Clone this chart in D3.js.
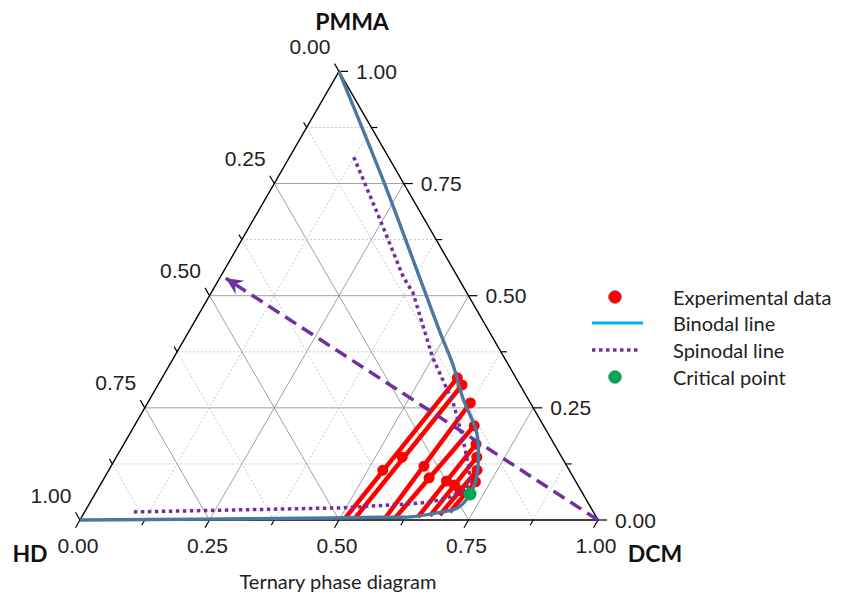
<!DOCTYPE html>
<html><head><meta charset="utf-8">
<script src="https://cdn.jsdelivr.net/npm/d3@7"></script>
<style>body{margin:0;background:#fff} svg{display:block}</style>
</head><body>
<svg id="chart" width="841" height="594"></svg>
<script>
// Compositions are stored as [DCM, PMMA] fractions; HD = 1 - DCM - PMMA.
const axisTicks = [0, 0.125, 0.25, 0.375, 0.5, 0.625, 0.75, 0.875, 1];
const majorTicks = [0, 0.25, 0.5, 0.75, 1];
const tickLabels = ["0.00", "0.25", "0.50", "0.75", "1.00"];
const vertexNames = ["HD", "DCM", "PMMA"];
const chartTitle = "Ternary phase diagram";

const binodal = [
  [0.000, 1.000], [0.206, 0.758], [0.353, 0.580], [0.487, 0.417], [0.547, 0.346],
  [0.603, 0.272], [0.669, 0.194], [0.707, 0.123], [0.721, 0.085], [0.724, 0.049],
  [0.715, 0.027], [0.681, 0.016], [0.634, 0.007], [0.576, 0.006], [0.480, 0.0045],
  [0.231, 0.002], [0.000, 0.000]
];

const spinodal = [
  [0.124, 0.809], [0.245, 0.669], [0.353, 0.542], [0.390, 0.506], [0.499, 0.363],
  [0.590, 0.261], [0.646, 0.185], [0.693, 0.116], [0.708, 0.089], [0.710, 0.067],
  [0.688, 0.051], [0.656, 0.040], [0.619, 0.036], [0.489, 0.027], [0.093, 0.018]
];

// Tie lines: lean phase, rich phase and the feed compositions between them
const tieLines = [
  { lean: [0.510, 0.0045], rich: [0.570, 0.317], feeds: [[0.529, 0.111]] },
  { lean: [0.529, 0.0045], rich: [0.587, 0.301], feeds: [[0.552, 0.140]] },
  { lean: [0.587, 0.0045], rich: [0.623, 0.261], feeds: [[0.604, 0.120]] },
  { lean: [0.606, 0.0045], rich: [0.656, 0.210], feeds: [[0.627, 0.094]] },
  { lean: [0.649, 0.0067], rich: [0.680, 0.169], feeds: [[0.664, 0.087]] },
  { lean: [0.671, 0.009],  rich: [0.696, 0.140], feeds: [[0.684, 0.078]] },
  { lean: [0.689, 0.011],  rich: [0.711, 0.111], feeds: [[0.701, 0.065]] },
  { lean: [0.705, 0.018],  rich: [0.721, 0.085], feeds: [] }
];

const criticalPoint = [0.724, 0.058];
const dilutionPath = [[1.000, 0.000], [0.012, 0.539]];

const legendItems = ["Experimental data", "Binodal line", "Spinodal line", "Critical point"];

const colors = {
  data: "#ff0000", binodal: "#4a78a2", binodalKey: "#00b0f0",
  spinodal: "#7030a0", critical: "#00a651", grid: "#a0a0a0", minor: "#c8c8c8"
};

const svg = d3.select("#chart");
const side = 518;
const x = d3.scaleLinear().domain([0, 1]).range([80, 80 + side]);
const y = d3.scaleLinear().domain([0, 1]).range([520, 520 - side * Math.sqrt(3) / 2]);
const px = ([dcm, pmma]) => [x(dcm + pmma / 2), y(pmma)];
const line = d3.line().x(d => px(d)[0]).y(d => px(d)[1]);

// grid lines for each of the three components
const grid = svg.append("g");
axisTicks.filter(t => t > 0 && t < 1).forEach(t => {
  const major = majorTicks.includes(t);
  const segs = [
    [[0, t], [1 - t, t]],          // constant PMMA
    [[t, 0], [t, 1 - t]],          // constant DCM
    [[1 - t, 0], [0, 1 - t]]       // constant HD
  ];
  segs.forEach(s => grid.append("path")
    .attr("d", line(s))
    .attr("fill", "none")
    .attr("stroke", major ? colors.grid : colors.minor)
    .attr("stroke-width", 1)
    .attr("stroke-dasharray", major ? null : "2,2"));
});

// triangle outline
svg.append("path")
  .attr("d", line([[0, 0], [1, 0], [0, 1]]) + "Z")
  .attr("fill", "none").attr("stroke", "#000").attr("stroke-width", 1.4);

// ticks and tick labels
const axes = svg.append("g").attr("font-family", "'Liberation Sans', Arial, sans-serif")
  .attr("font-size", 21).attr("fill", "#222");
const c60 = 0.5, s60 = Math.sqrt(3) / 2;
axisTicks.forEach(t => {
  const len = majorTicks.includes(t) ? 9 : 6;
  // bottom (DCM)
  let [bx, by] = px([t, 0]);
  axes.append("line").attr("x1", bx).attr("y1", by).attr("x2", bx - c60 * len).attr("y2", by + s60 * len)
    .attr("stroke", "#000").attr("stroke-width", 1.2);
  // right (PMMA)
  let [rx, ry] = px([1 - t, t]);
  axes.append("line").attr("x1", rx).attr("y1", ry).attr("x2", rx + len).attr("y2", ry)
    .attr("stroke", "#000").attr("stroke-width", 1.2);
  // left (HD)
  let [lx, ly] = px([0, 1 - t]);
  axes.append("line").attr("x1", lx).attr("y1", ly).attr("x2", lx - c60 * len).attr("y2", ly - s60 * len)
    .attr("stroke", "#000").attr("stroke-width", 1.2);
});
majorTicks.forEach((t, i) => {
  const [bx, by] = px([t, 0]);
  axes.append("text").attr("x", bx - 2).attr("y", by + 33).attr("text-anchor", "middle").text(tickLabels[i]);
  const [rx, ry] = px([1 - t, t]);
  axes.append("text").attr("x", rx + 17).attr("y", ry).attr("dominant-baseline", "central").text(tickLabels[i]);
  const [lx, ly] = px([0, 1 - t]);
  axes.append("text").attr("x", lx - 29).attr("y", ly - 25).attr("text-anchor", "middle")
    .attr("dominant-baseline", "central").text(tickLabels[i]);
});

// vertex names
const names = svg.append("g").attr("font-family", "Lato, 'Open Sans', sans-serif")
  .attr("font-weight", "bold").attr("font-size", 23).attr("fill", "#111");
names.append("text").attr("x", 30).attr("y", 553).attr("text-anchor", "middle").attr("dominant-baseline", "central").text(vertexNames[0]);
names.append("text").attr("x", 655).attr("y", 553).attr("text-anchor", "middle").attr("dominant-baseline", "central").text(vertexNames[1]);
names.append("text").attr("x", 352).attr("y", 21).attr("text-anchor", "middle").attr("dominant-baseline", "central").text(vertexNames[2]);

svg.append("text").attr("x", 338).attr("y", 581).attr("text-anchor", "middle")
  .attr("dominant-baseline", "central")
  .attr("font-family", "Lato, 'Open Sans', sans-serif").attr("font-size", 20).attr("fill", "#222")
  .text(chartTitle);

// tie lines with experimental points (rich-phase end and feeds marked)
const ties = svg.append("g");
tieLines.forEach(tl => {
  ties.append("path").attr("d", line([tl.lean, tl.rich]))
    .attr("stroke", colors.data).attr("stroke-width", 4.5).attr("fill", "none");
  [tl.rich, ...tl.feeds].forEach(p => {
    const [cx, cy] = px(p);
    ties.append("circle").attr("cx", cx).attr("cy", cy).attr("r", 5.5).attr("fill", colors.data);
  });
});

// spinodal curve
svg.append("path").attr("d", line(spinodal))
  .attr("fill", "none").attr("stroke", colors.spinodal).attr("stroke-width", 3.5)
  .attr("stroke-dasharray", "3.5,3.5");

// dilution path arrow
svg.append("defs").append("marker")
  .attr("id", "head").attr("viewBox", "-18 -9 20 18").attr("refX", 0).attr("refY", 0)
  .attr("markerUnits", "userSpaceOnUse").attr("markerWidth", 20).attr("markerHeight", 18)
  .attr("orient", "auto")
  .append("path").attr("d", "M0,0 L-17,-8 L-11,0 L-17,8 Z").attr("fill", colors.spinodal);
svg.append("path").attr("d", line(dilutionPath))
  .attr("fill", "none").attr("stroke", colors.spinodal).attr("stroke-width", 3.5)
  .attr("stroke-dasharray", "13,7").attr("marker-end", "url(#head)");

// binodal curve
svg.append("path").attr("d", line.curve(d3.curveCatmullRom)(binodal))
  .attr("fill", "none").attr("stroke", colors.binodal).attr("stroke-width", 3.4);
line.curve(d3.curveLinear);

// critical point
const [kx, ky] = px(criticalPoint);
svg.append("circle").attr("cx", kx).attr("cy", ky).attr("r", 6.5).attr("fill", colors.critical);

// legend
const lg = svg.append("g").attr("font-family", "Lato, 'Open Sans', sans-serif")
  .attr("font-size", 20).attr("fill", "#222");
const rowY = [297, 323, 350, 377];
legendItems.forEach((name, i) => {
  lg.append("text").attr("x", 673).attr("y", rowY[i]).attr("dominant-baseline", "central").text(name);
});
lg.append("circle").attr("cx", 615).attr("cy", rowY[0]).attr("r", 6.5).attr("fill", colors.data)
  .attr("stroke", "#8a6d8a").attr("stroke-width", 0.6);
lg.append("line").attr("x1", 592).attr("x2", 643).attr("y1", rowY[1]).attr("y2", rowY[1])
  .attr("stroke", colors.binodalKey).attr("stroke-width", 3);
lg.append("line").attr("x1", 592).attr("x2", 641).attr("y1", rowY[2]).attr("y2", rowY[2])
  .attr("stroke", colors.spinodal).attr("stroke-width", 3.5).attr("stroke-dasharray", "3.5,3.5");
lg.append("circle").attr("cx", 615).attr("cy", rowY[3]).attr("r", 6.5).attr("fill", colors.critical)
  .attr("stroke", "#6a8a8a").attr("stroke-width", 0.6);
</script>
</body></html>
